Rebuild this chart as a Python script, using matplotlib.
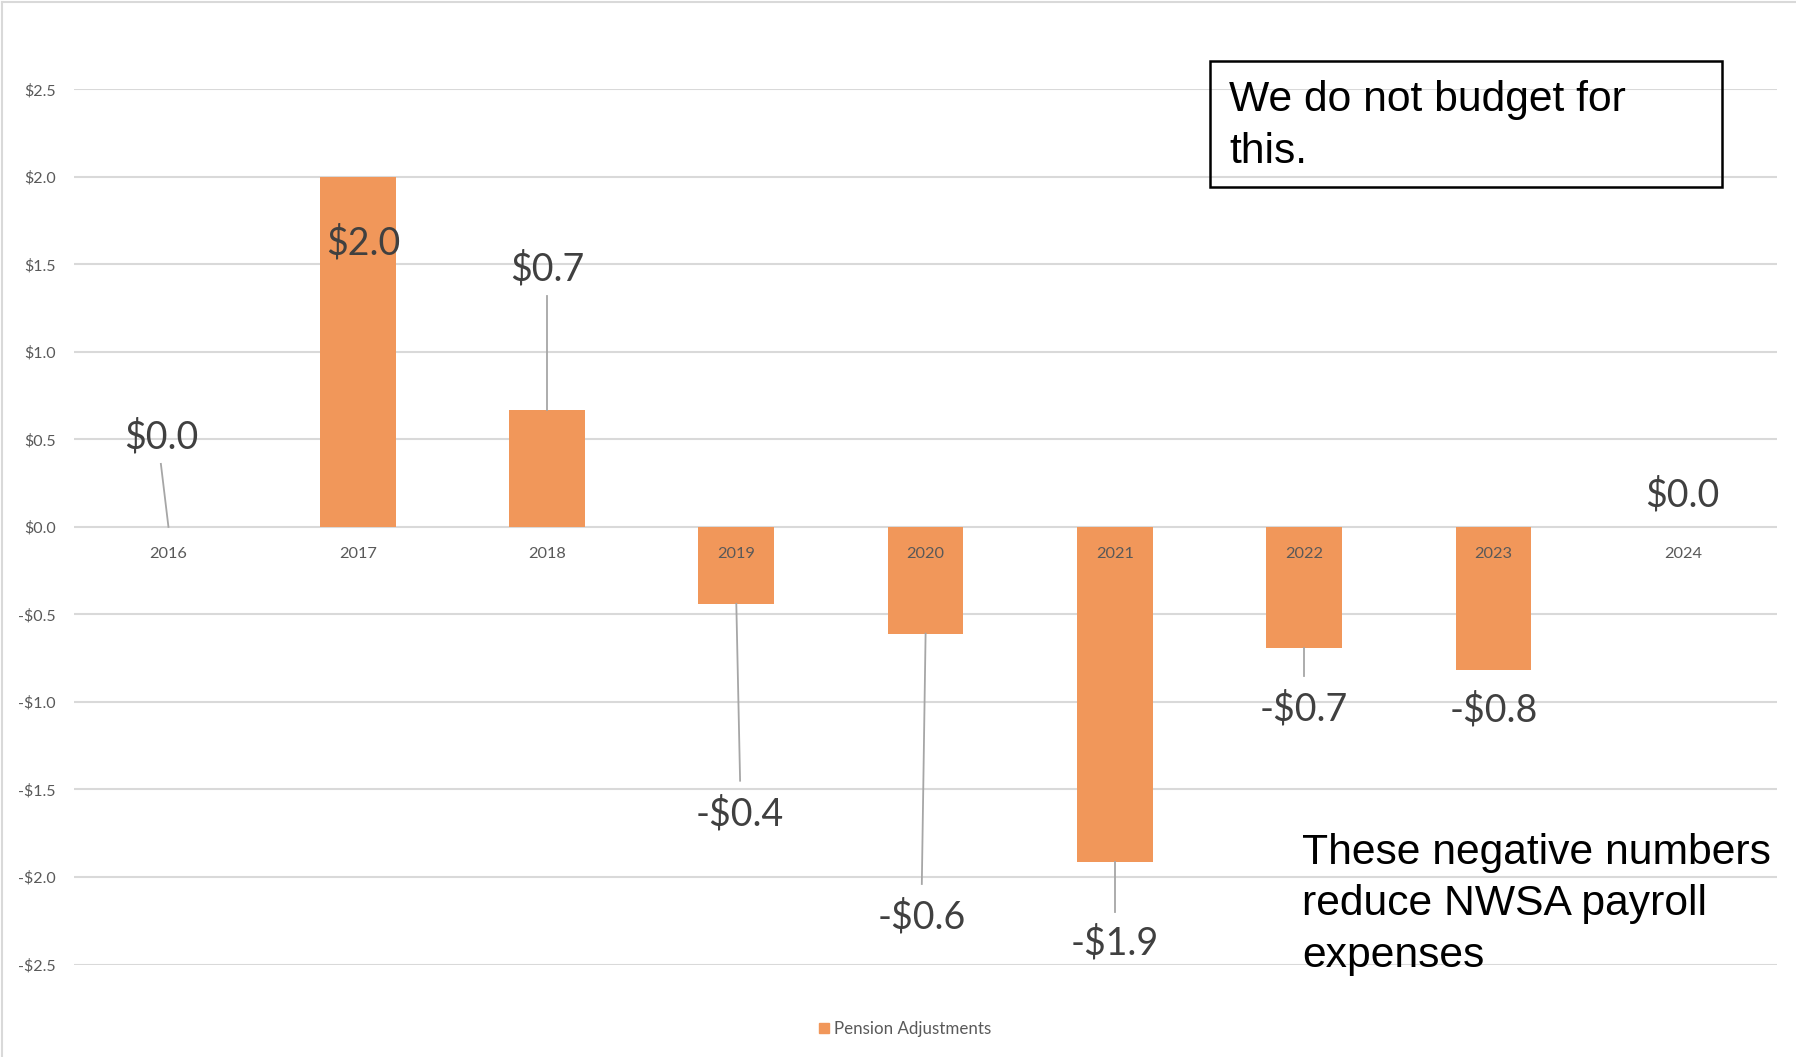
import matplotlib.pyplot as plt
from matplotlib.patches import Rectangle
from matplotlib.lines import Line2D

# pension adjustments ($M) by year
years = ["2016", "2017", "2018", "2019", "2020", "2021", "2022", "2023", "2024"]
values = [0.0, 2.0, 0.67, -0.44, -0.61, -1.915, -0.69, -0.82, 0.0]

# where Excel dragged the data labels (category offset, y in data units)
label_dx = [-0.04, 0.03, 0.0, 0.02, -0.02, 0.0, 0.0, 0.0, 0.0]
label_y = [0.51, 1.62, 1.47, -1.64, -2.23, -2.38, -1.04, -1.05, 0.18]
# leader line ends near the label (None = no leader)
leader_end = [0.36, None, 1.32, -1.45, -2.04, -2.20, -0.85, None, None]

bar_color = "#F1975A"
grid_color = "#D9D9D9"
text_gray = "#595959"

W, H = 1796, 1057
fig = plt.figure(figsize=(W / 100, H / 100), dpi=100)
ax = fig.add_axes([73.8 / W, 1 - 964.5 / H, (1777.4 - 73.8) / W, (964.5 - 89.3) / H])

x = list(range(len(years)))
ax.bar(x, values, width=0.4, color=bar_color, zorder=2)

ax.set_xlim(-0.5, len(years) - 0.5)
ax.set_ylim(-2.5, 2.5)
yt = [-2.5, -2.0, -1.5, -1.0, -0.5, 0.0, 0.5, 1.0, 1.5, 2.0, 2.5]
ax.set_yticks(yt)
ax.set_yticklabels([("-$%.1f" % -t) if t < 0 else ("$%.1f" % t) for t in yt],
                   fontsize=11.5, color=text_gray, family="Lato")
ax.tick_params(axis="y", length=0, pad=13)
ax.set_xticks([])
ax.yaxis.grid(True, color=grid_color, lw=1.5, zorder=0)
for s in ax.spines.values():
    s.set_visible(False)

# category labels sit right below the zero line
for i, yr in enumerate(years):
    ax.annotate(yr, (i, 0), xytext=(0, -19.5), textcoords="offset points",
                ha="center", va="center", fontsize=11.8, color=text_gray, family="Lato")

# data labels + leader lines
for i, v in enumerate(values):
    lx = i + label_dx[i]
    txt = ("-$%.1f" % -v) if v < 0 else ("$%.1f" % v)
    ax.text(lx, label_y[i], txt, ha="center", va="center", fontsize=27,
            color="#404040", family="Lato", zorder=4)
    if leader_end[i] is not None:
        ax.plot([i, lx], [v, leader_end[i]], color="#A6A6A6", lw=1.3, zorder=3)

# legend at the bottom
fig.legend(handles=[Rectangle((0, 0), 1, 1, color=bar_color)], labels=["Pension Adjustments"],
           loc="center", bbox_to_anchor=(0.504, 0.0265), frameon=False,
           handlelength=0.6, handleheight=0.6, handletextpad=0.3,
           prop={"family": "Lato", "size": 12.2}, labelcolor=text_gray)

# call-out box
fig.patches.append(Rectangle((1209.5 / W, 1 - 186.7 / H), 512 / W, 126 / H,
                             transform=fig.transFigure, fill=False, ec="black", lw=1.8))
fig.text(1229 / W, 1 - 126 / H, "We do not budget for\nthis.", ha="left", va="center",
         fontsize=30.7, family="Liberation Sans", color="black", linespacing=1.36)

fig.text(1302 / W, 1 - 904.5 / H, "These negative numbers\nreduce NWSA payroll\nexpenses",
         ha="left", va="center", fontsize=30.7, family="Liberation Sans", color="black",
         linespacing=1.36)

# light chart border (top and left)
fig.add_artist(Line2D([2 / W, 2 / W], [0, 1 - 2 / H], color=grid_color, lw=1.5))
fig.add_artist(Line2D([2 / W, 1], [1 - 2 / H, 1 - 2 / H], color=grid_color, lw=1.5))

fig.savefig("out.png", dpi=100, facecolor="white")
